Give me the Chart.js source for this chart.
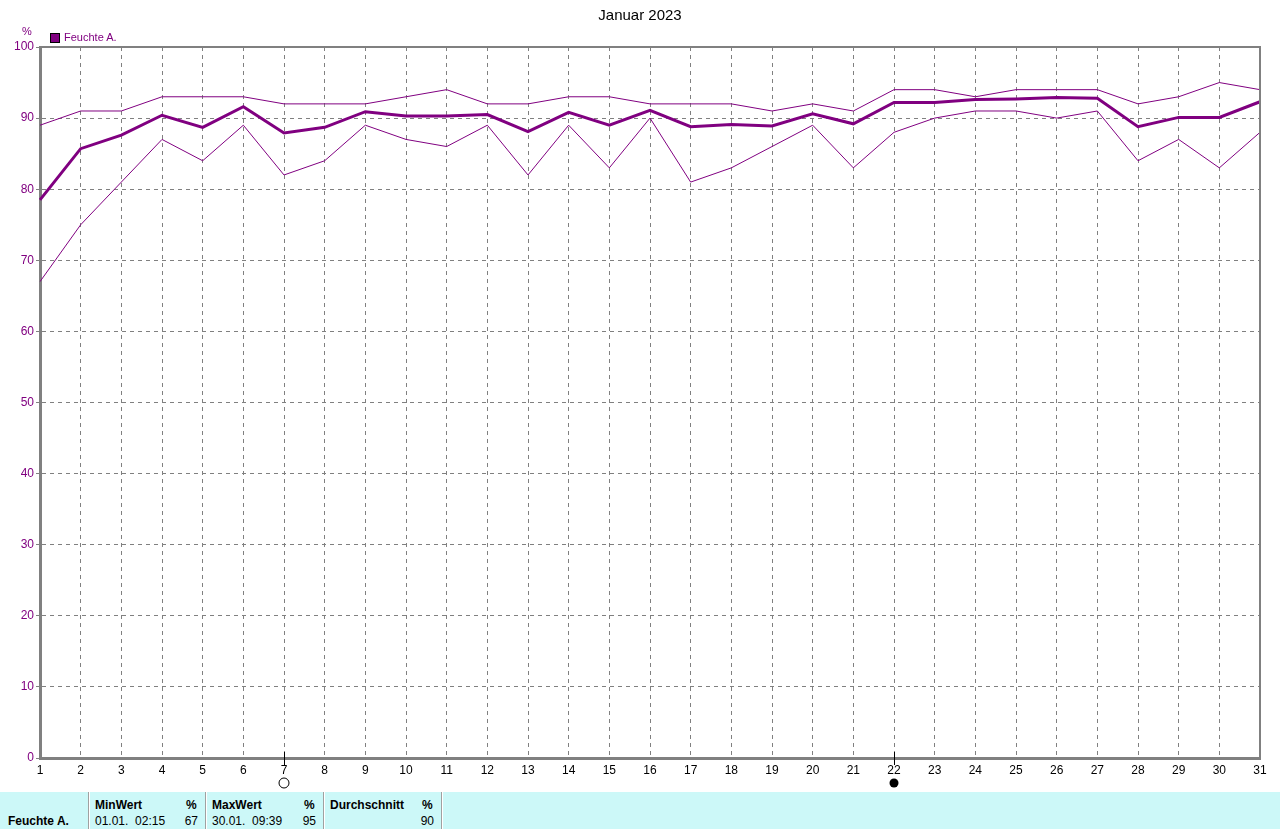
<!DOCTYPE html>
<html>
<head>
<meta charset="utf-8">
<script src="https://cdn.jsdelivr.net/npm/chart.js@4"></script>
<style>
  body { margin: 0; background: #fff; font-family: "Liberation Sans", Arial, sans-serif; }
  #wrap { position: relative; width: 1280px; height: 829px; overflow: hidden; }
  #chart { position: absolute; left: 0; top: 0; }
  .txt { position: absolute; white-space: pre; }
  #title { left: 0; width: 1280px; top: 6px; text-align: center; font-size: 15px; color: #000; }
  #unit { left: 22px; top: 25px; font-size: 11px; color: #800080; }
  #legend-box { position: absolute; left: 50px; top: 33px; width: 8px; height: 8px; background: #800080; border: 1px solid #000; }
  #legend-txt { left: 64px; top: 31px; font-size: 11px; color: #800080; }
  #table { position: absolute; left: 0; top: 792px; width: 1280px; height: 37px; background: #ccf8f8; font-size: 12px; color: #000; }
  .sep { position: absolute; top: 0; width: 1px; height: 37px; background: #a0a0a0; border-right: 1px solid #fff; }
  .b { font-weight: bold; }
</style>
</head>
<body>
<div id="wrap">
  <canvas id="chart" width="1280" height="792"></canvas>
  <div id="title" class="txt">Januar 2023</div>
  <div id="unit" class="txt">%</div>
  <div id="legend-box"></div>
  <div id="legend-txt" class="txt">Feuchte A.</div>
  <div id="table"></div>
</div>
<script>
var days = [];
for (var d = 1; d <= 31; d++) days.push(String(d));

var humMax = [89, 91, 91, 93, 93, 93, 92, 92, 92, 93, 94, 92, 92, 93, 93, 92,
              92, 92, 91, 92, 91, 94, 94, 93, 94, 94, 94, 92, 93, 95, 94];
var humMean = [78.5, 85.7, 87.6, 90.4, 88.7, 91.6, 87.9, 88.7, 90.9, 90.3, 90.3, 90.5, 88.1, 90.8, 89.0, 91.1,
               88.8, 89.1, 88.9, 90.6, 89.2, 92.2, 92.2, 92.6, 92.7, 92.9, 92.8, 88.8, 90.1, 90.1, 92.3];
var humMin = [67, 75, 81, 87, 84, 89, 82, 84, 89, 87, 86, 89, 82, 89, 83, 90,
              81, 83, 86, 89, 83, 88, 90, 91, 91, 90, 91, 84, 87, 83, 88];

var fullMoonDays = ['7'];
var newMoonDays = ['22'];

var statHeaders = ['MinWert', 'MaxWert', 'Durchschnitt'];
var statTimes = ['01.01.  02:15', '30.01.  09:39', ''];
var statValues = ['67', '95', '90'];
var seriesName = 'Feuchte A.';

var purple = '#800080';
var gray = '#808080';

// bottom stats table
var table = document.getElementById('table');
var colX = [88, 205, 323, 441];
var html = '<div class="txt b" style="left:8px;top:22px">' + seriesName + '</div>';
for (var i = 0; i < colX.length; i++) {
    html += '<div class="sep" style="left:' + colX[i] + 'px"></div>';
}
for (var i = 0; i < statHeaders.length; i++) {
    var l = colX[i] + 7, r = colX[i + 1];
    html += '<div class="txt b" style="left:' + l + 'px;top:6px">' + statHeaders[i] + '</div>';
    html += '<div class="txt b" style="left:' + (r - 19) + 'px;top:6px">%</div>';
    html += '<div class="txt" style="left:' + l + 'px;top:22px">' + statTimes[i] + '</div>';
    html += '<div class="txt" style="right:' + (1280 - r + 7) + 'px;top:22px">' + statValues[i] + '</div>';
}
table.innerHTML = html;

var framePlugin = {
    id: 'frame',
    afterDraw: function (chart) {
        var ctx = chart.ctx;
        var a = chart.chartArea;
        ctx.save();
        ctx.strokeStyle = gray;
        ctx.lineWidth = 2;
        ctx.beginPath();
        ctx.moveTo(a.left, a.top);
        ctx.lineTo(a.right, a.top);
        ctx.lineTo(a.right, a.bottom);
        ctx.stroke();

        // moon phase markers
        var xs = chart.scales.x;
        ctx.strokeStyle = '#000';
        ctx.fillStyle = '#000';
        ctx.lineWidth = 1;
        fullMoonDays.concat(newMoonDays).forEach(function (day) {
            var x = Math.round(xs.getPixelForValue(days.indexOf(day))) + 0.5;
            ctx.beginPath();
            ctx.moveTo(x, a.bottom - 6);
            ctx.lineTo(x, a.bottom + 7);
            ctx.stroke();
        });
        fullMoonDays.forEach(function (day) {
            var x = xs.getPixelForValue(days.indexOf(day));
            ctx.beginPath();
            ctx.arc(x, a.bottom + 25, 5, 0, Math.PI * 2);
            ctx.stroke();
        });
        newMoonDays.forEach(function (day) {
            var x = xs.getPixelForValue(days.indexOf(day));
            ctx.beginPath();
            ctx.arc(x, a.bottom + 25, 4.5, 0, Math.PI * 2);
            ctx.fill();
        });
        ctx.restore();
    }
};

var ctx = document.getElementById('chart').getContext('2d');
var humidity_chart = new Chart(ctx, {
    type: 'line',
    data: {
        labels: days,
        datasets: [{
            label: 'Max',
            data: humMax,
            borderColor: purple,
            borderWidth: 1,
            pointRadius: 0,
            fill: false,
        }, {
            label: seriesName,
            data: humMean,
            borderColor: purple,
            borderWidth: 3,
            pointRadius: 0,
            fill: false,
        }, {
            label: 'Min',
            data: humMin,
            borderColor: purple,
            borderWidth: 1,
            pointRadius: 0,
            fill: false,
        }]
    },
    options: {
        responsive: false,
        animation: false,
        devicePixelRatio: 1,
        layout: { padding: { top: 47, right: 20, left: 0, bottom: 0 } },
        plugins: {
            legend: { display: false },
            title: { display: false },
            tooltip: { enabled: false }
        },
        scales: {
            x: {
                offset: false,
                grid: { color: gray, drawTicks: false },
                border: { color: gray, width: 3, dash: [4, 4] },
                ticks: {
                    color: '#000',
                    padding: 5,
                    maxRotation: 0,
                    autoSkip: false,
                    font: { family: 'Liberation Sans', size: 12 }
                },
                afterFit: function (scale) { scale.height = 34; }
            },
            y: {
                min: 0,
                max: 100,
                grid: { color: gray, tickLength: 4 },
                border: { color: gray, width: 3, dash: [4, 4] },
                ticks: {
                    stepSize: 10,
                    color: purple,
                    padding: 2,
                    font: { family: 'Liberation Sans', size: 12 }
                },
                afterFit: function (scale) { scale.width = 40; }
            }
        }
    },
    plugins: [framePlugin]
});
</script>
</body>
</html>
